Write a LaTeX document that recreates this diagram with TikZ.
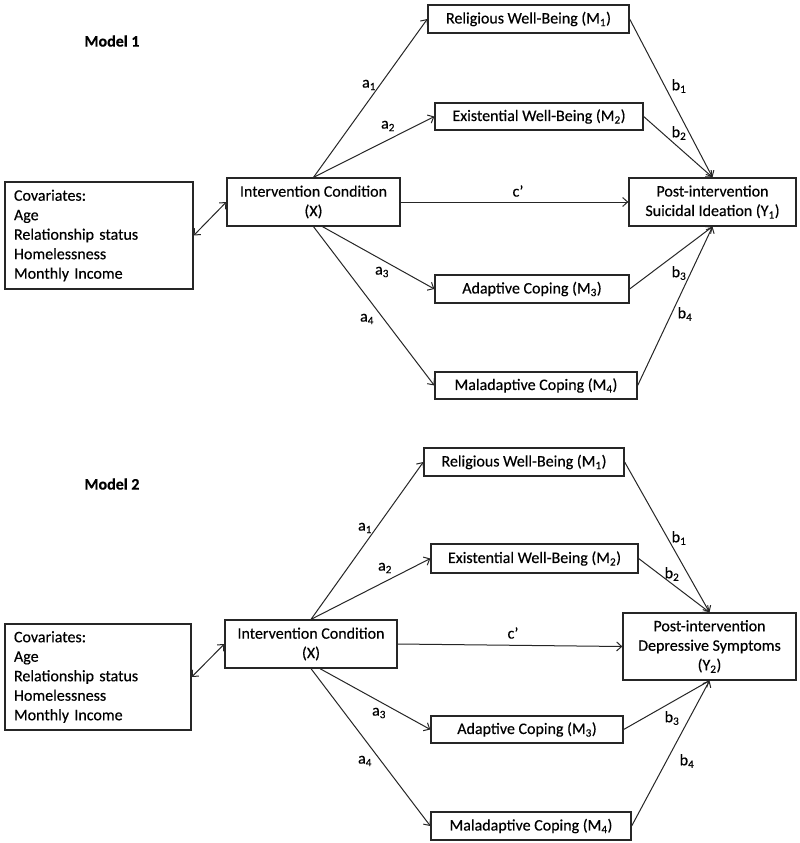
\documentclass[tikz,border=0pt]{standalone}
\usepackage{fontspec}
\setmainfont{Carlito}[FakeBold=0.35]
\newfontfamily\regfont{Carlito}[FakeBold=0.35]
\usetikzlibrary{arrows.meta}
\begin{document}
\begin{tikzpicture}[x=1pt,y=-1pt,
  box/.style={draw=black!85, line width=1.3pt, inner sep=0pt, align=center, font=\regfont\fontsize{16}{19.5}\selectfont},
  arr/.style={draw=black!85, line width=1pt, -{Straight Barb[length=5pt,width=9pt]}},
  darr/.style={draw=black!85, line width=1pt, {Straight Barb[length=5pt,width=9pt]}-{Straight Barb[length=5pt,width=9pt]}},
  lab/.style={font=\regfont\fontsize{16}{19.5}\selectfont, inner sep=0pt},
  ttl/.style={font=\bfseries\fontsize{16}{19.5}\selectfont, inner sep=0pt}]
\useasboundingbox[fill=white] (0,0) rectangle (800,843);

% ---------- Model 1 ----------
\node[ttl] (t1) at (112,41) {Model 1};
\node[box, align=left, text width=170pt, inner xsep=9pt, minimum height=107pt] (cov1) at (99,235.5)
  {Covariates:\\Age\\Relationship status\\Homelessness\\Monthly Income};
\node[box, minimum width=173pt, minimum height=48pt] (x1) at (313.5,202) {Intervention Condition\\(X)};
\node[box, minimum width=201pt, minimum height=28pt] (m11) at (528.5,19) {Religious Well-Being (M\textsubscript{1})};
\node[box, minimum width=208pt, minimum height=27pt] (m12) at (539,116.5) {Existential Well-Being (M\textsubscript{2})};
\node[box, minimum width=167pt, minimum height=48pt] (y1) at (712.5,202) {Post-intervention\\Suicidal Ideation (Y\textsubscript{1})};
\node[box, minimum width=194pt, minimum height=28pt] (m13) at (532,289) {Adaptive Coping (M\textsubscript{3})};
\node[box, minimum width=202pt, minimum height=27pt] (m14) at (536,385.5) {Maladaptive Coping (M\textsubscript{4})};

\draw[darr] (cov1.east) -- (x1.west);
\draw[arr] (x1.north) -- (m11.west);
\draw[arr] (x1.north) -- (m12.west);
\draw[arr] (x1.east) -- (y1.west);
\draw[arr] ([xshift=9pt]x1.south) -- (m13.west);
\draw[arr] (x1.south) -- (m14.west);
\draw[arr] (m11.east) -- (y1.north);
\draw[arr] (m12.east) -- (y1.north);
\draw[arr] (m13.east) -- (y1.south);
\draw[arr] (m14.east) -- (y1.south);

\node[lab] (la11) at (369,85) {a\textsubscript{1}};
\node[lab] (la12) at (388,126) {a\textsubscript{2}};
\node[lab] (la13) at (382,272) {a\textsubscript{3}};
\node[lab] (la14) at (367,319) {a\textsubscript{4}};
\node[lab] (lc1) at (518,191) {c’};
\node[lab] (lb11) at (679,86) {b\textsubscript{1}};
\node[lab] (lb12) at (679,133) {b\textsubscript{2}};
\node[lab] (lb13) at (679,273) {b\textsubscript{3}};
\node[lab] (lb14) at (685,314) {b\textsubscript{4}};

% ---------- Model 2 ----------
\node[ttl] (t2) at (112,484) {Model 2};
\node[box, align=left, text width=168pt, inner xsep=9pt, minimum height=106pt] (cov2) at (98,677)
  {Covariates:\\Age\\Relationship status\\Homelessness\\Monthly Income};
\node[box, minimum width=172pt, minimum height=48pt] (x2) at (311,644) {Intervention Condition\\(X)};
\node[box, minimum width=200pt, minimum height=28pt] (m21) at (524,462) {Religious Well-Being (M\textsubscript{1})};
\node[box, minimum width=207pt, minimum height=29pt] (m22) at (534.5,558.5) {Existential Well-Being (M\textsubscript{2})};
\node[box, minimum width=173pt, minimum height=67pt] (y2) at (709.5,646.5) {Post-intervention\\Depressive Symptoms\\(Y\textsubscript{2})};
\node[box, minimum width=192pt, minimum height=27pt] (m23) at (527,729.5) {Adaptive Coping (M\textsubscript{3})};
\node[box, minimum width=200pt, minimum height=28pt] (m24) at (531,826) {Maladaptive Coping (M\textsubscript{4})};

\draw[darr] (cov2.east) -- (x2.west);
\draw[arr] (x2.north) -- (m21.west);
\draw[arr] (x2.north) -- (m22.west);
\draw[arr] (x2.east) -- (y2.west);
\draw[arr] ([xshift=9pt]x2.south) -- (m23.west);
\draw[arr] (x2.south) -- (m24.west);
\draw[arr] (m21.east) -- (y2.north);
\draw[arr] (m22.east) -- (y2.north);
\draw[arr] (m23.east) -- (y2.south);
\draw[arr] (m24.east) -- (y2.south);

\node[lab] (la21) at (365,528) {a\textsubscript{1}};
\node[lab] (la22) at (385,568) {a\textsubscript{2}};
\node[lab] (la23) at (379,713) {a\textsubscript{3}};
\node[lab] (la24) at (365,761) {a\textsubscript{4}};
\node[lab] (lc2) at (513,633) {c’};
\node[lab] (lb21) at (679,538) {b\textsubscript{1}};
\node[lab] (lb22) at (672,574) {b\textsubscript{2}};
\node[lab] (lb23) at (672,718) {b\textsubscript{3}};
\node[lab] (lb24) at (687,761) {b\textsubscript{4}};
\end{tikzpicture}
\end{document}
